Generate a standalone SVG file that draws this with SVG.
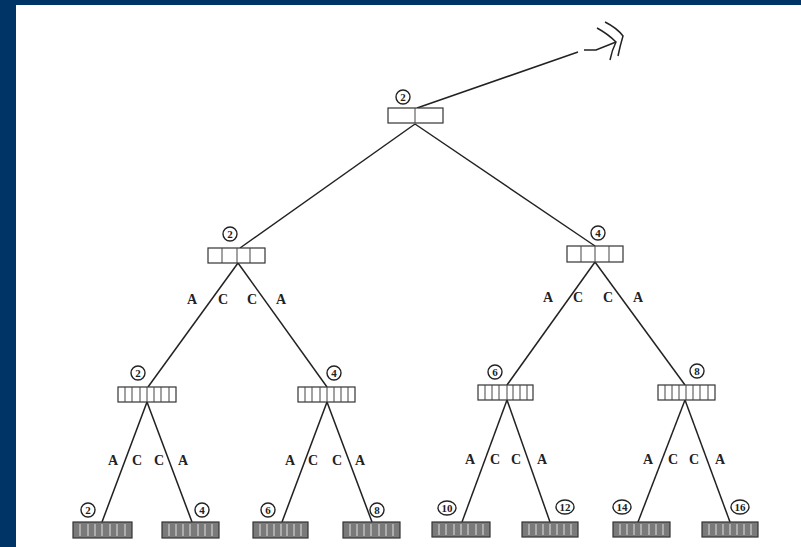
<svg xmlns="http://www.w3.org/2000/svg" width="801" height="547" viewBox="0 0 801 547">
<style>
.bx{fill:#fff;stroke:#333;stroke-width:1.2}
.bl{fill:#7a7a7a;stroke:#333;stroke-width:1.2}
.dv{stroke:#444;stroke-width:1}
.dl{stroke:#e0e0e0;stroke-width:1}
.ln{stroke:#222;stroke-width:1.5;fill:none}
.lab{font-family:"Liberation Serif",serif;font-weight:bold;font-size:14px;fill:#222;text-anchor:middle}
.num{font-family:"Liberation Serif",serif;font-weight:bold;font-size:11px;fill:#222;text-anchor:middle}
.cr{fill:none;stroke:#222;stroke-width:1.4}
</style>
<rect x="0" y="0" width="801" height="547" fill="#003366"/>
<rect x="16" y="5" width="785" height="542" fill="#fff"/>
<g id="connectors">
<line class="ln" x1="415" y1="124" x2="240" y2="248"/>
<line class="ln" x1="415" y1="124" x2="595" y2="246"/>
<line class="ln" x1="238" y1="263" x2="148" y2="387"/>
<line class="ln" x1="238" y1="263" x2="327" y2="387"/>
<line class="ln" x1="595" y1="262" x2="507" y2="385"/>
<line class="ln" x1="595" y1="262" x2="685" y2="385"/>
<line class="ln" x1="147" y1="402" x2="102" y2="522"/>
<line class="ln" x1="147" y1="402" x2="192" y2="522"/>
<line class="ln" x1="327" y1="402" x2="282" y2="522"/>
<line class="ln" x1="327" y1="402" x2="372" y2="522"/>
<line class="ln" x1="507" y1="400" x2="462" y2="522"/>
<line class="ln" x1="507" y1="400" x2="550" y2="522"/>
<line class="ln" x1="685" y1="400" x2="638" y2="522"/>
<line class="ln" x1="685" y1="400" x2="730" y2="522"/>
<path class="ln" d="M417,108 L578,52 M584,50 L596,50 L616,42"/>
<path class="ln" d="M597,28 Q608,34 616,42 Q612,50 610,60"/>
<path class="ln" d="M605,22 Q617,28 623,36 Q620,46 618,56"/>
</g>
<g id="root">
<rect class="bx" x="388" y="108" width="55" height="15"/>
<line class="dv" x1="415" y1="108" x2="415" y2="123"/>
<circle class="cr" cx="403" cy="97" r="7"/><text class="num" x="403" y="101">2</text>
</g>
<g id="n2a">
<rect class="bx" x="208" y="248" width="57" height="15"/>
<line class="dv" x1="222" y1="248" x2="222" y2="263"/><line class="dv" x1="237" y1="248" x2="237" y2="263"/><line class="dv" x1="250" y1="248" x2="250" y2="263"/>
<circle class="cr" cx="230" cy="234" r="7"/><text class="num" x="230" y="238">2</text>
<text class="lab" x="192" y="304">A</text><text class="lab" x="223" y="304">C</text><text class="lab" x="252" y="304">C</text><text class="lab" x="281" y="304">A</text>
</g>
<g id="n2b">
<rect class="bx" x="567" y="246" width="56" height="16"/>
<line class="dv" x1="581" y1="246" x2="581" y2="262"/><line class="dv" x1="595" y1="246" x2="595" y2="262"/><line class="dv" x1="609" y1="246" x2="609" y2="262"/>
<circle class="cr" cx="598" cy="233" r="7"/><text class="num" x="598" y="237">4</text>
<text class="lab" x="548" y="302">A</text><text class="lab" x="578" y="302">C</text><text class="lab" x="608" y="302">C</text><text class="lab" x="638" y="302">A</text>
</g>
<g id="n3a">
<rect class="bx" x="118" y="387" width="58" height="15"/>
<path class="dv" d="M125,387v15M132,387v15M140,387v15M147,387v15M154,387v15M161,387v15M169,387v15"/>
<circle class="cr" cx="138" cy="373" r="7"/><text class="num" x="138" y="377">2</text>
<text class="lab" x="113" y="465">A</text><text class="lab" x="137" y="465">C</text><text class="lab" x="159" y="465">C</text><text class="lab" x="183" y="465">A</text>
</g>
<g id="n3b">
<rect class="bx" x="298" y="387" width="57" height="15"/>
<path class="dv" d="M305,387v15M312,387v15M320,387v15M327,387v15M334,387v15M341,387v15M348,387v15"/>
<circle class="cr" cx="334" cy="373" r="7"/><text class="num" x="334" y="377">4</text>
<text class="lab" x="290" y="465">A</text><text class="lab" x="313" y="465">C</text><text class="lab" x="337" y="465">C</text><text class="lab" x="360" y="465">A</text>
</g>
<g id="n3c">
<rect class="bx" x="478" y="385" width="55" height="15"/>
<path class="dv" d="M485,385v15M492,385v15M499,385v15M507,385v15M513,385v15M520,385v15M527,385v15"/>
<circle class="cr" cx="495" cy="372" r="7"/><text class="num" x="495" y="376">6</text>
<text class="lab" x="470" y="464">A</text><text class="lab" x="495" y="464">C</text><text class="lab" x="516" y="464">C</text><text class="lab" x="542" y="464">A</text>
</g>
<g id="n3d">
<rect class="bx" x="658" y="385" width="57" height="15"/>
<path class="dv" d="M665,385v15M672,385v15M679,385v15M686,385v15M693,385v15M700,385v15M708,385v15"/>
<circle class="cr" cx="697" cy="371" r="7"/><text class="num" x="697" y="375">8</text>
<text class="lab" x="648" y="464">A</text><text class="lab" x="673" y="464">C</text><text class="lab" x="694" y="464">C</text><text class="lab" x="720" y="464">A</text>
</g>
<g id="l1"><rect class="bl" x="73" y="522" width="59" height="16"/><path class="dl" d="M80,524v12M88,524v12M95,524v12M102,524v12M110,524v12M117,524v12M125,524v12"/><circle class="cr" cx="88" cy="510" r="7"/><text class="num" x="88" y="514">2</text></g>
<g id="l2"><rect class="bl" x="162" y="522" width="57" height="16"/><path class="dl" d="M169,524v12M176,524v12M183,524v12M190,524v12M198,524v12M205,524v12M212,524v12"/><circle class="cr" cx="202" cy="510" r="7"/><text class="num" x="202" y="514">4</text></g>
<g id="l3"><rect class="bl" x="253" y="522" width="55" height="16"/><path class="dl" d="M260,524v12M267,524v12M274,524v12M281,524v12M287,524v12M294,524v12M301,524v12"/><circle class="cr" cx="268" cy="510" r="7"/><text class="num" x="268" y="514">6</text></g>
<g id="l4"><rect class="bl" x="343" y="522" width="57" height="16"/><path class="dl" d="M350,524v12M357,524v12M364,524v12M371,524v12M379,524v12M386,524v12M393,524v12"/><circle class="cr" cx="377" cy="510" r="7"/><text class="num" x="377" y="514">8</text></g>
<g id="l5"><rect class="bl" x="432" y="522" width="58" height="15"/><path class="dl" d="M439,524v11M446,524v11M454,524v11M461,524v11M468,524v11M476,524v11M483,524v11"/><ellipse class="cr" cx="447" cy="508" rx="9" ry="7"/><text class="num" x="447" y="512">10</text></g>
<g id="l6"><rect class="bl" x="522" y="522" width="56" height="15"/><path class="dl" d="M529,524v11M536,524v11M543,524v11M550,524v11M557,524v11M564,524v11M571,524v11"/><ellipse class="cr" cx="565" cy="507" rx="9" ry="7"/><text class="num" x="565" y="511">12</text></g>
<g id="l7"><rect class="bl" x="613" y="522" width="57" height="15"/><path class="dl" d="M620,524v11M627,524v11M634,524v11M641,524v11M649,524v11M656,524v11M663,524v11"/><ellipse class="cr" cx="622" cy="507" rx="9" ry="7"/><text class="num" x="622" y="511">14</text></g>
<g id="l8"><rect class="bl" x="702" y="522" width="56" height="15"/><path class="dl" d="M709,524v11M716,524v11M723,524v11M730,524v11M737,524v11M744,524v11M751,524v11"/><ellipse class="cr" cx="740" cy="507" rx="9" ry="7"/><text class="num" x="740" y="511">16</text></g>
</svg>
